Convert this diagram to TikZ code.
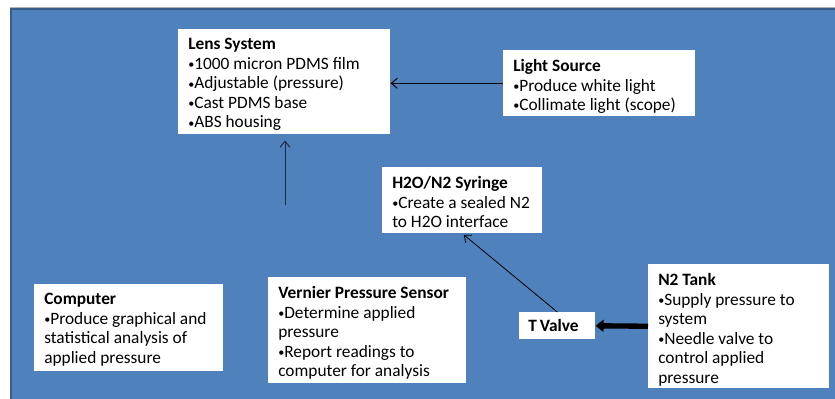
\documentclass[tikz,border=0pt]{standalone}
\usepackage{fontspec}
\setmainfont{Carlito}
\usetikzlibrary{arrows.meta}
\definecolor{bgblue}{HTML}{4F81BD}
\definecolor{bgborder}{HTML}{385D8A}
\definecolor{lineblue}{HTML}{1C2A44}
\newcommand\bul{\raisebox{0.6pt}{\scalebox{0.7}{•}}}
\newcommand\bxt[3]{\parbox[c][#2][t]{#1}{\fontsize{13pt}{14.6pt}\selectfont\vspace*{7pt}#3}}
\tikzset{
  box/.style={fill=white, inner ysep=0pt, inner xsep=7.5pt, anchor=north west},
  thinarr/.style={-{Straight Barb[length=4.5pt,width=7.5pt]}, line width=0.75pt, draw=black},
  fatarr/.style={-{Triangle[length=6pt,width=9pt]}, line width=4pt, draw=black},
}
\begin{document}
\begin{tikzpicture}[x=0.75pt,y=-0.75pt]
\useasboundingbox (0,0) rectangle (835,399);
\fill[bgblue] (10,8) rectangle (840,405);
\draw[bgborder, line width=1.6pt] (11,405) -- (11,9) -- (840,9);
\draw[gray!60, line width=0.6pt] (10,7) -- (840,7);

\node[box] (lens) at (178,29) {\bxt{144pt}{78.75pt}{\textbf{Lens System}\\\bul1000 micron PDMS film\\\bul Adjustable (pressure)\\\bul Cast PDMS base\\\bul ABS housing}};
\node[box] (light) at (503,50) {\bxt{129pt}{49.5pt}{\textbf{Light Source}\\\bul Produce white light\\\bul Collimate light (scope)}};
\node[box] (syringe) at (382,167) {\bxt{105pt}{49.5pt}{\textbf{H2O/N2 Syringe}\\\bul Create a sealed N2\\to H2O interface}};
\node[box] (computer) at (34,284) {\bxt{126.75pt}{65.25pt}{\textbf{Computer}\\\bul Produce graphical and\\statistical analysis of\\applied pressure}};
\node[box] (vernier) at (268,277) {\bxt{133.5pt}{79.5pt}{\textbf{Vernier Pressure Sensor}\\\bul Determine applied\\pressure\\\bul Report readings to\\computer for analysis}};
\node[box, inner xsep=6.75pt, minimum width=57pt, minimum height=20.25pt, text width=43.5pt, align=left, font=\fontsize{13pt}{14.6pt}\selectfont\bfseries] (tvalve) at (519,312) {T\kern2.2pt Valve};
\node[box] (tank) at (648,264) {\bxt{120.75pt}{93pt}{\textbf{N2 Tank}\\\bul Supply pressure to\\system\\\bul Needle valve to\\control applied\\pressure}};

\coordinate (vstart) at (285,205);
\draw[thinarr] (light.west) -- (light.west -| lens.east);
\draw[thinarr, draw=lineblue] (vstart) -- (vstart |- lens.south) [shorten >=4.5pt];
\draw[thinarr, line width=0.6pt, shorten >=1.5pt] (tvalve.north) -- (syringe.south);
\draw[fatarr] (tank.west) -- (tvalve.east);
\end{tikzpicture}
\end{document}
